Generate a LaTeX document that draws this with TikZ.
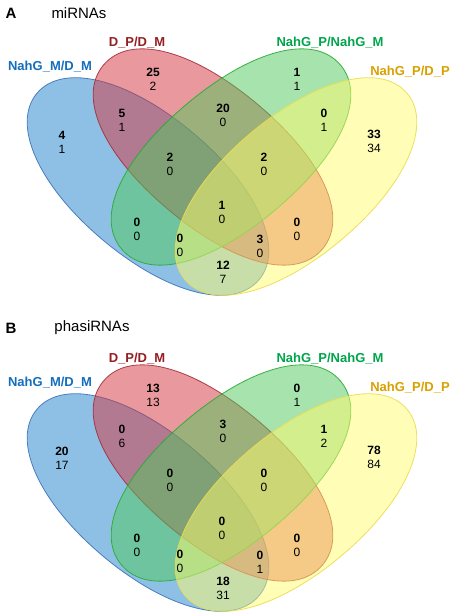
\documentclass[tikz,border=0pt]{standalone}
\usepackage{fontspec}
\setmainfont{Liberation Sans}
\usepackage{tikz}
\definecolor{fillblue}{RGB}{30,130,205}
\definecolor{fillred}{RGB}{212,52,62}
\definecolor{fillgreen}{RGB}{80,200,90}
\definecolor{fillyellow}{RGB}{255,252,110}
\definecolor{lineblue}{RGB}{60,115,185}
\definecolor{linered}{RGB}{165,45,55}
\definecolor{linegreen}{RGB}{40,170,50}
\definecolor{lineyellow}{RGB}{235,220,80}
\definecolor{txtblue}{RGB}{20,110,190}
\definecolor{txtred}{RGB}{150,30,35}
\definecolor{txtgreen}{RGB}{0,165,75}
\definecolor{txtgold}{RGB}{218,160,0}
\tikzset{
    set/.style={fill=fill#1, fill opacity=0.5, draw=line#1, draw opacity=0.9, line width=0.8pt},
    num/.style={align=center, font=\fontsize{12}{14}\selectfont, inner sep=0pt},
    setlab/.style={font=\fontsize{13}{15}\selectfont\bfseries, inner sep=0pt},
    paneltitle/.style={font=\fontsize{15}{17}\selectfont, inner sep=0pt},
}
% rounded oval set: colour, centre x, y, angle, half length, half width, control factor
\newcommand{\vennset}[7]{%
\draw[set=#1, shift={(#2,#3)}, rotate=#4] (#5,0) .. controls (#5,#7*#6) and (#7*#5,#6) .. (0,#6)
  .. controls (-#7*#5,#6) and (-#5,#7*#6) .. (-#5,0)
  .. controls (-#5,-#7*#6) and (-#7*#5,-#6) .. (0,-#6)
  .. controls (#7*#5,-#6) and (#5,-#7*#6) .. (#5,0) -- cycle;}

\begin{document}
\begin{tikzpicture}[x=1pt,y=1pt]
\useasboundingbox (0,0) rectangle (459,615);
% panel A
\begin{scope}
\vennset{blue}{148}{428.5}{-40}{145}{70}{0.58} % NahG_M/D_M
\vennset{red}{213}{458}{-40}{143}{69}{0.6} % D_P/D_M
\vennset{green}{231}{458}{40}{143}{69}{0.6} % NahG_P/NahG_M
\vennset{yellow}{296}{428.5}{40}{145}{70}{0.58} % NahG_P/D_P
\node[paneltitle, font=\fontsize{15}{17}\selectfont\bfseries] (a-letter) at (11,602) {A};
\node[paneltitle] (a-title) at (79,602) {miRNAs};
\node[setlab, text=txtblue] (a-lblue) at (50,548) {NahG\_M/D\_M};
\node[setlab, text=txtred] (a-lred) at (137,572) {D\_P/D\_M};
\node[setlab, text=txtgreen] (a-lgreen) at (330,572) {NahG\_P/NahG\_M};
\node[setlab, text=txtgold] (a-lyellow) at (410,543) {NahG\_P/D\_P};
\node[num] (a-b) at (62,473) {\textbf{4}\\1}; % blue only
\node[num] (a-r) at (153,536) {\textbf{25}\\2}; % red only
\node[num] (a-br) at (122,495) {\textbf{5}\\1};
\node[num] (a-rg) at (223,500) {\textbf{20}\\0};
\node[num] (a-g) at (297,536) {\textbf{1}\\1}; % green only
\node[num] (a-gy) at (324,495) {\textbf{0}\\1};
\node[num] (a-y) at (374,474) {\textbf{33}\\34}; % yellow only
\node[num] (a-brg) at (170,451) {\textbf{2}\\0};
\node[num] (a-rgy) at (264,451) {\textbf{2}\\0};
\node[num] (a-brgy) at (222,403) {\textbf{1}\\0}; % all four
\node[num] (a-bg) at (137,386) {\textbf{0}\\0};
\node[num] (a-bgy) at (180,370) {\textbf{0}\\0};
\node[num] (a-ry) at (297,386) {\textbf{0}\\0};
\node[num] (a-bry) at (260,369) {\textbf{3}\\0};
\node[num] (a-by) at (223,343) {\textbf{12}\\7};
\end{scope}
% panel B
\begin{scope}[yshift=-316pt]
\vennset{blue}{148}{428.5}{-40}{145}{70}{0.58} % NahG_M/D_M
\vennset{red}{213}{458}{-40}{143}{69}{0.6} % D_P/D_M
\vennset{green}{231}{458}{40}{143}{69}{0.6} % NahG_P/NahG_M
\vennset{yellow}{296}{428.5}{40}{145}{70}{0.58} % NahG_P/D_P
\node[paneltitle, font=\fontsize{15}{17}\selectfont\bfseries] (b-letter) at (11,603) {B};
\node[paneltitle] (b-title) at (92,603) {phasiRNAs};
\node[setlab, text=txtblue] (b-lblue) at (50,548) {NahG\_M/D\_M};
\node[setlab, text=txtred] (b-lred) at (137,572) {D\_P/D\_M};
\node[setlab, text=txtgreen] (b-lgreen) at (330,572) {NahG\_P/NahG\_M};
\node[setlab, text=txtgold] (b-lyellow) at (410,543) {NahG\_P/D\_P};
\node[num] (b-b) at (62,473) {\textbf{20}\\17}; % blue only
\node[num] (b-r) at (153,536) {\textbf{13}\\13}; % red only
\node[num] (b-br) at (122,495) {\textbf{0}\\6};
\node[num] (b-rg) at (223,500) {\textbf{3}\\0};
\node[num] (b-g) at (297,536) {\textbf{0}\\1}; % green only
\node[num] (b-gy) at (324,495) {\textbf{1}\\2};
\node[num] (b-y) at (374,474) {\textbf{78}\\84}; % yellow only
\node[num] (b-brg) at (170,451) {\textbf{0}\\0};
\node[num] (b-rgy) at (264,451) {\textbf{0}\\0};
\node[num] (b-brgy) at (222,403) {\textbf{0}\\0}; % all four
\node[num] (b-bg) at (137,386) {\textbf{0}\\0};
\node[num] (b-bgy) at (180,370) {\textbf{0}\\0};
\node[num] (b-ry) at (297,386) {\textbf{0}\\0};
\node[num] (b-bry) at (260,369) {\textbf{0}\\1};
\node[num] (b-by) at (223,343) {\textbf{18}\\31};
\end{scope}
\end{tikzpicture}
\end{document}
